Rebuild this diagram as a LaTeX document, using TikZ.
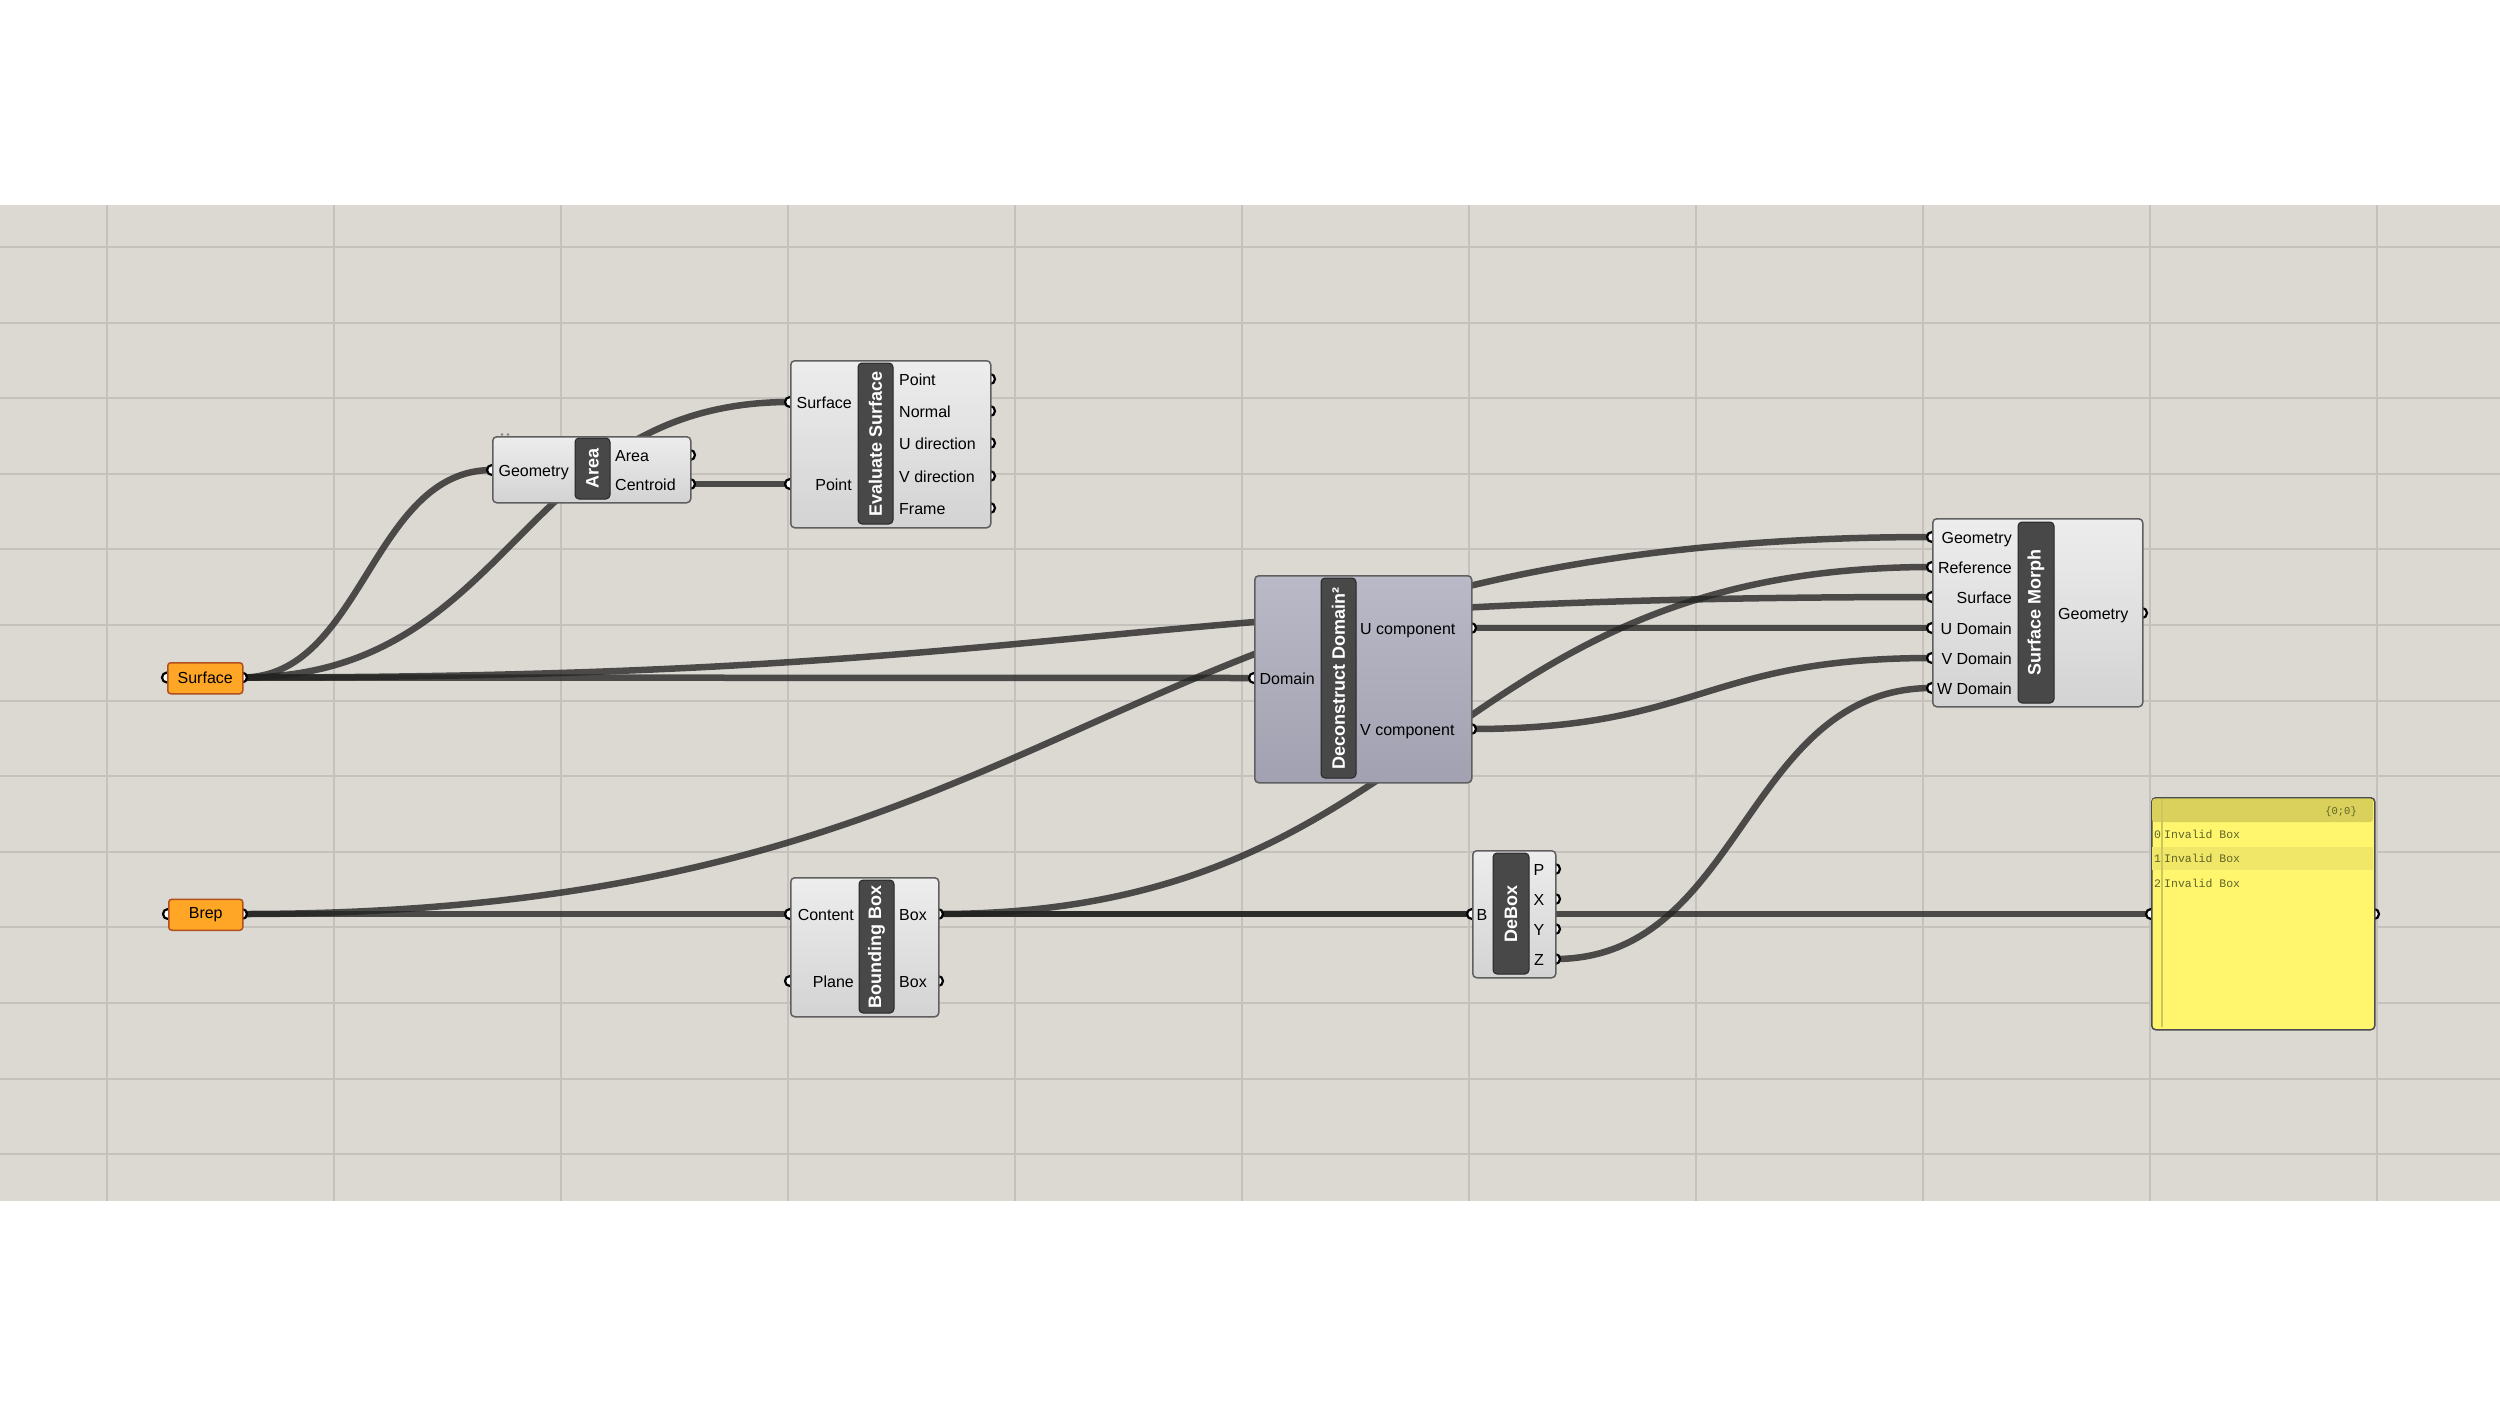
\documentclass[tikz,border=0pt]{standalone}
\usepackage{fontspec}
\setmainfont{Liberation Sans}
\newfontfamily\monof{Liberation Mono}
\newcommand\lblfont{\fontsize{16}{18}\selectfont}
\newcommand\titlefont{\bfseries\fontsize{18}{20}\selectfont}
\newcommand\panfont{\monof\fontsize{11.5}{13}\selectfont}
\definecolor{canvasc}{RGB}{220,217,211}
\definecolor{gridc}{RGB}{197,194,189}
\definecolor{wirec}{RGB}{35,35,33}
\definecolor{compTop}{RGB}{237,237,237}
\definecolor{compBot}{RGB}{211,211,211}
\definecolor{compBorder}{RGB}{95,95,95}
\definecolor{bandc}{RGB}{72,72,72}
\definecolor{ddTop}{RGB}{186,185,199}
\definecolor{ddBot}{RGB}{162,161,177}
\definecolor{paramFill}{RGB}{255,166,38}
\definecolor{paramBorder}{RGB}{175,80,30}
\definecolor{panelFill}{RGB}{255,246,110}
\definecolor{panelHead}{RGB}{218,209,92}
\definecolor{panelRow}{RGB}{240,231,104}
\definecolor{panelLine}{RGB}{205,198,90}
\definecolor{panelText}{RGB}{95,100,40}
\pgfdeclarelayer{bg}
\pgfdeclarelayer{wires}
\pgfdeclarelayer{ports}
\pgfsetlayers{bg,wires,ports,main}
\tikzset{
  comp/.style={draw=compBorder, line width=1.5pt, rounded corners=4pt, top color=compTop, bottom color=compBot, anchor=north west, inner sep=0pt},
  ddcomp/.style={comp, top color=ddTop, bottom color=ddBot},
  band/.style={draw=black!85, line width=1pt, fill=bandc, rounded corners=4pt, rotate=90, text=white, font=\titlefont, inner sep=0pt},
  lbl/.style={font=\lblfont, inner sep=0pt, text=black},
  portc/.style={circle, draw=black, fill=white, line width=2.2pt, minimum size=10pt, inner sep=0pt},
  wire/.style={draw=wirec, line width=6.5pt, draw opacity=0.78},
  param/.style={draw=paramBorder, fill=paramFill, line width=1.5pt, rounded corners=3pt, inner sep=0pt, anchor=north west, font=\lblfont},
  gridline/.style={draw=gridc, line width=2.5pt},
  pantext/.style={font=\panfont, text=panelText, inner sep=0pt}
}
\begin{document}
\begin{tikzpicture}[x=1pt,y=-1pt]
\useasboundingbox (0,0) rectangle (2500,1406);
\begin{pgfonlayer}{bg}
\fill[white] (0,0) rectangle (2500,1406);
\fill[canvasc] (0,205) rectangle (2500,1201);
\foreach \x in {107,334,561,788,1015,1242,1469,1696,1923,2150,2377}
  \draw[gridline] (\x,205) -- (\x,1201);
\foreach \y in {247,323,398,474,549,625,701,776,852,927,1003,1079,1154}
  \draw[gridline] (0,\y) -- (2500,\y);
\end{pgfonlayer}

% ports
\begin{pgfonlayer}{ports}
\node[portc] (surf-i) at (167,677.5) {};
\node[portc] (surf-o) at (242,677.5) {};
\node[portc] (brep-i) at (168,914) {};
\node[portc] (brep-o) at (242,914) {};
\node[portc] (area-geo) at (492,470) {};
\node[portc] (area-area) at (690,455) {};
\node[portc] (area-cen) at (690,484) {};
\node[portc] (evs-surf) at (790,402) {};
\node[portc] (evs-pt) at (790,484) {};
\node[portc] (evs-o1) at (990,379) {};
\node[portc] (evs-o2) at (990,411) {};
\node[portc] (evs-o3) at (990,443) {};
\node[portc] (evs-o4) at (990,476) {};
\node[portc] (evs-o5) at (990,508) {};
\node[portc] (dd-dom) at (1254,678) {};
\node[portc] (dd-u) at (1471,628) {};
\node[portc] (dd-v) at (1471,729) {};
\node[portc] (sm-geo) at (1932,537) {};
\node[portc] (sm-ref) at (1932,567) {};
\node[portc] (sm-surf) at (1932,597) {};
\node[portc] (sm-udom) at (1932,628) {};
\node[portc] (sm-vdom) at (1932,658) {};
\node[portc] (sm-wdom) at (1932,688) {};
\node[portc] (sm-out) at (2142,613) {};
\node[portc] (bb-con) at (790,914) {};
\node[portc] (bb-pl) at (790,981) {};
\node[portc] (bb-box) at (938,914) {};
\node[portc] (bb-box2) at (938,981) {};
\node[portc] (db-b) at (1472,914) {};
\node[portc] (db-p) at (1555,869) {};
\node[portc] (db-x) at (1555,899) {};
\node[portc] (db-y) at (1555,929) {};
\node[portc] (db-z) at (1555,959) {};
\node[portc] (pan-i) at (2151,914) {};
\node[portc] (pan-o) at (2374,914) {};
\end{pgfonlayer}

% wires
\begin{pgfonlayer}{wires}
\draw[wire] (surf-o.center) .. controls +(121,0) and +(-121,0) .. (area-geo.center);
\draw[wire] (surf-o.center) .. controls +(274,0) and +(-274,0) .. (evs-surf.center);
\draw[wire] (area-cen.center) -- (evs-pt.center);
\draw[wire] (surf-o.center) -- (dd-dom.center);
\draw[wire] (surf-o.center) .. controls +(845,0) and +(-845,0) .. (sm-surf.center);
\draw[wire] (brep-o.center) .. controls +(845,0) and +(-845,0) .. (sm-geo.center);
\draw[wire] (brep-o.center) -- (bb-con.center);
\draw[wire] (bb-box.center) -- (db-b.center);
\draw[wire] (bb-box.center) -- (pan-i.center);
\draw[wire] (bb-box.center) .. controls +(497,0) and +(-497,0) .. (sm-ref.center);
\draw[wire] (dd-u.center) -- (sm-udom.center);
\draw[wire] (dd-v.center) .. controls +(230,0) and +(-230,0) .. (sm-vdom.center);
\draw[wire] (db-z.center) .. controls +(188,0) and +(-188,0) .. (sm-wdom.center);
\end{pgfonlayer}

% params
\node[param, minimum width=75pt, minimum height=31pt] (surf) at (167,662) {Surface};
\node[param, minimum width=74pt, minimum height=31pt] (brep) at (168,898.5) {Brep};

% Area
\node[comp, minimum width=198pt, minimum height=66pt] (area) at (492,436) {};
\node[band, minimum width=61pt, minimum height=35pt] (area-t) at (592.5,468.5) {Area};
\node[lbl, anchor=base east] (area-l1) at (569,476) {Geometry};
\node[lbl, anchor=base west] (area-l2) at (615,461) {Area};
\node[lbl, anchor=base west] (area-l3) at (615,490) {Centroid};
\fill[gray] (502,434.5) circle (1.4pt) (508,434.5) circle (1.4pt);

% Evaluate Surface
\node[comp, minimum width=200pt, minimum height=167pt] (evs) at (790,360) {};
\node[band, minimum width=161pt, minimum height=35pt] (evs-t) at (875.5,443.5) {Evaluate Surface};
\node[lbl, anchor=base east] (evs-l1) at (852,408) {Surface};
\node[lbl, anchor=base east] (evs-l2) at (852,490) {Point};
\node[lbl, anchor=base west] (evs-r1) at (899,385) {Point};
\node[lbl, anchor=base west] (evs-r2) at (899,417) {Normal};
\node[lbl, anchor=base west] (evs-r3) at (899,449) {U direction};
\node[lbl, anchor=base west] (evs-r4) at (899,482) {V direction};
\node[lbl, anchor=base west] (evs-r5) at (899,514) {Frame};

% Deconstruct Domain
\node[ddcomp, minimum width=217pt, minimum height=207pt] (dd) at (1254,575) {};
\node[band, minimum width=200pt, minimum height=35pt] (dd-t) at (1338.5,678) {Deconstruct Domain²};
\node[lbl, anchor=base east] (dd-l1) at (1315,684) {Domain};
\node[lbl, anchor=base west] (dd-r1) at (1360,634) {U component};
\node[lbl, anchor=base west] (dd-r2) at (1360,735) {V component};

% Surface Morph
\node[comp, minimum width=210pt, minimum height=188pt] (sm) at (1932,518) {};
\node[band, minimum width=181pt, minimum height=36pt] (sm-t) at (2036,612.5) {Surface Morph};
\node[lbl, anchor=base east] (sm-l1) at (2012,543) {Geometry};
\node[lbl, anchor=base east] (sm-l2) at (2012,573) {Reference};
\node[lbl, anchor=base east] (sm-l3) at (2012,603) {Surface};
\node[lbl, anchor=base east] (sm-l4) at (2012,634) {U Domain};
\node[lbl, anchor=base east] (sm-l5) at (2012,664) {V Domain};
\node[lbl, anchor=base east] (sm-l6) at (2012,694) {W Domain};
\node[lbl, anchor=base west] (sm-r1) at (2058,619) {Geometry};

% Bounding Box
\node[comp, minimum width=148pt, minimum height=139pt] (bb) at (790,877) {};
\node[band, minimum width=133pt, minimum height=35pt] (bb-t) at (876.5,946.5) {Bounding Box};
\node[lbl, anchor=base east] (bb-l1) at (854,920) {Content};
\node[lbl, anchor=base east] (bb-l2) at (854,987) {Plane};
\node[lbl, anchor=base west] (bb-r1) at (899,920) {Box};
\node[lbl, anchor=base west] (bb-r2) at (899,987) {Box};

% DeBox
\node[comp, minimum width=83pt, minimum height=127pt] (db) at (1472,850) {};
\node[band, minimum width=121pt, minimum height=36pt] (db-t) at (1511,913.5) {DeBox};
\node[lbl, anchor=base] (db-l1) at (1482,920) {B};
\node[lbl, anchor=base] (db-r1) at (1539,875) {P};
\node[lbl, anchor=base] (db-r2) at (1539,905) {X};
\node[lbl, anchor=base] (db-r3) at (1539,935) {Y};
\node[lbl, anchor=base] (db-r4) at (1539,965) {Z};

% Panel
\node[draw=black!70, line width=1.5pt, fill=panelFill, rounded corners=4pt, minimum width=223pt, minimum height=232pt, anchor=north west, inner sep=0pt] (pan) at (2151,797) {};
\fill[panelHead, rounded corners=3pt] (2152,798.5) rectangle (2373,822);
\fill[panelRow] (2152,847) rectangle (2373,870);
\draw[panelLine, line width=1.5pt] (2162,799) -- (2162,1027);
\node[pantext, anchor=base east, font=\monof\fontsize{10.5}{12}\selectfont] (pan-h) at (2357,814) {\{0;0\}};
\node[pantext, anchor=base west] (pan-n0) at (2154,838) {0};
\node[pantext, anchor=base west] (pan-t0) at (2164,838) {Invalid Box};
\node[pantext, anchor=base west] (pan-n1) at (2154,862.5) {1};
\node[pantext, anchor=base west] (pan-t1) at (2164,862.5) {Invalid Box};
\node[pantext, anchor=base west] (pan-n2) at (2154,887) {2};
\node[pantext, anchor=base west] (pan-t2) at (2164,887) {Invalid Box};
\end{tikzpicture}
\end{document}
